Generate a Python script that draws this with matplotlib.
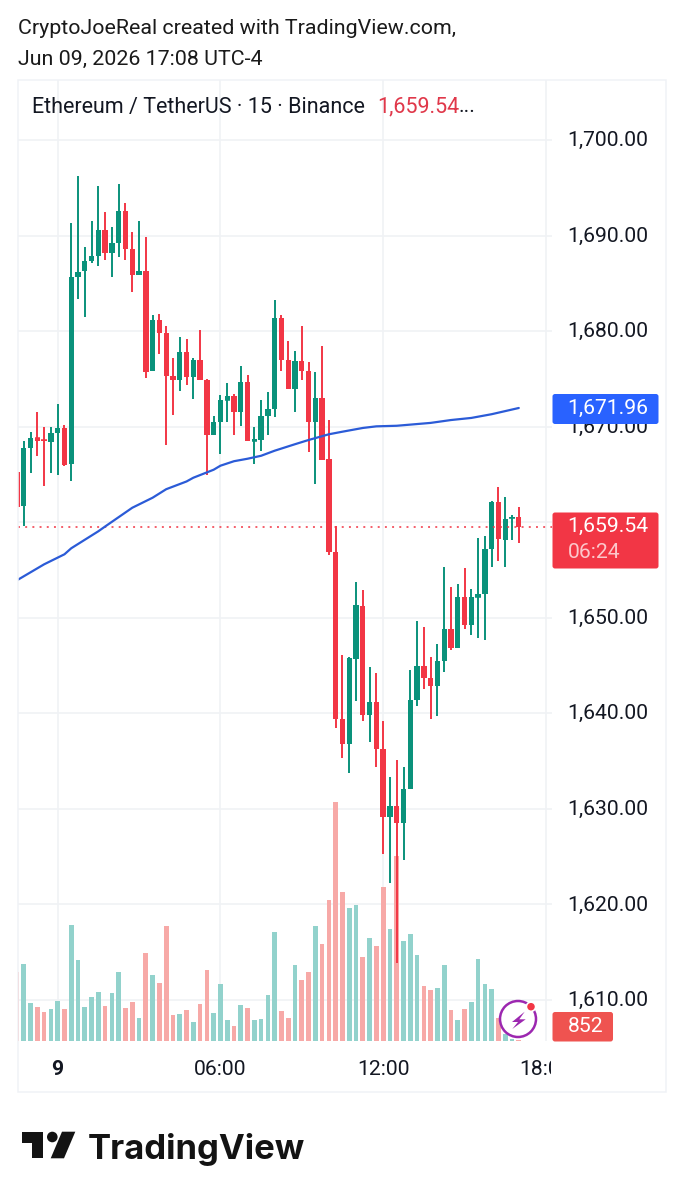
import matplotlib
matplotlib.use("Agg")
import matplotlib.pyplot as plt
from matplotlib.patches import Rectangle, Circle, Polygon, FancyBboxPatch
from matplotlib.transforms import Bbox, ScaledTranslation
import numpy as np

plt.rcParams['font.family'] = ['Roboto', 'DejaVu Sans']

# 15 minute candles, first bar is 22:30 on Jun 8
opens = [1665.30, 1661.66, 1667.77, 1668.81, 1668.60, 1668.39, 1669.34, 1669.86, 1666.05, 1685.67,
         1686.26, 1687.35, 1687.87, 1690.59, 1688.15, 1689.20, 1692.55, 1688.57, 1685.85, 1686.30,
         1675.83, 1681.17, 1679.77, 1675.30, 1674.85, 1677.78, 1675.16, 1677.02, 1674.93, 1669.10,
         1670.49, 1672.80, 1673.18, 1671.58, 1674.65, 1668.54, 1668.61, 1671.09, 1671.85, 1681.42,
         1677.02, 1673.95, 1676.85, 1675.80, 1670.49, 1673.04, 1666.62, 1656.91, 1639.46, 1636.81,
         1645.74, 1651.22, 1639.81, 1641.17, 1636.25, 1629.20, 1630.28, 1628.57, 1632.09, 1641.41,
         1644.94, 1643.72, 1642.91, 1645.50, 1648.85, 1646.86, 1652.16, 1649.30, 1652.16, 1652.51,
         1657.22, 1662.15, 1658.17, 1660.40, 1660.51]
highs = [1665.30, 1668.46, 1669.44, 1671.53, 1669.96, 1669.96, 1672.37, 1670.21, 1691.33, 1696.28,
         1688.78, 1691.50, 1695.16, 1692.44, 1690.91, 1695.41, 1693.42, 1690.38, 1691.50, 1689.89,
         1681.66, 1681.80, 1680.51, 1677.19, 1679.39, 1679.18, 1677.15, 1680.09, 1675.00, 1671.16,
         1673.29, 1674.58, 1673.43, 1676.32, 1675.38, 1669.97, 1672.80, 1673.60, 1683.23, 1681.66,
         1678.97, 1677.96, 1680.51, 1676.78, 1675.69, 1678.42, 1670.74, 1659.56, 1646.06, 1645.95,
         1653.80, 1652.93, 1644.90, 1644.21, 1639.25, 1633.32, 1635.13, 1634.43, 1644.55, 1649.65,
         1649.09, 1645.95, 1647.21, 1655.37, 1653.21, 1653.56, 1655.20, 1653.00, 1658.38, 1658.52,
         1662.18, 1663.68, 1662.63, 1660.72, 1661.59]
lows = [1661.60, 1659.56, 1665.15, 1666.89, 1663.75, 1665.15, 1664.97, 1665.91, 1664.27, 1683.37,
        1681.48, 1687.10, 1686.86, 1687.42, 1685.67, 1687.73, 1687.42, 1684.07, 1685.85, 1675.09,
        1675.83, 1677.64, 1668.08, 1671.26, 1673.73, 1674.36, 1672.90, 1674.86, 1664.98, 1669.10,
        1667.11, 1670.53, 1669.10, 1670.11, 1668.47, 1666.10, 1667.42, 1669.10, 1670.98, 1675.80,
        1673.95, 1671.54, 1674.89, 1667.35, 1664.04, 1666.48, 1656.53, 1638.45, 1635.31, 1633.73,
        1641.27, 1639.25, 1636.98, 1634.36, 1625.25, 1622.22, 1613.91, 1624.66, 1632.09, 1640.79,
        1642.57, 1639.46, 1639.77, 1644.28, 1646.68, 1646.86, 1648.81, 1648.15, 1647.91, 1647.70,
        1655.37, 1655.90, 1655.27, 1658.17, 1657.82]
closes = [1661.60, 1667.77, 1668.78, 1668.53, 1668.46, 1669.34, 1669.86, 1666.02, 1685.67, 1686.23,
          1687.35, 1687.87, 1690.59, 1688.15, 1689.20, 1692.55, 1688.57, 1685.85, 1686.30, 1675.76,
          1681.17, 1679.77, 1675.30, 1674.85, 1677.78, 1675.16, 1677.01, 1674.86, 1669.10, 1670.49,
          1672.83, 1673.18, 1671.58, 1674.65, 1668.47, 1668.68, 1671.16, 1671.85, 1681.42, 1677.02,
          1673.95, 1676.85, 1675.80, 1670.49, 1673.04, 1666.55, 1656.92, 1639.46, 1636.81, 1645.78,
          1651.29, 1639.81, 1641.17, 1636.25, 1629.20, 1630.35, 1628.57, 1632.09, 1641.41, 1644.94,
          1643.72, 1642.91, 1645.50, 1648.85, 1646.82, 1652.16, 1649.30, 1652.16, 1652.51, 1657.22,
          1662.15, 1658.24, 1660.37, 1660.54, 1659.54]
volumes = [62400, 69600, 34500, 30600, 26400, 28800, 36000, 29100, 104700, 73200,
           30600, 39600, 43800, 31800, 43200, 62100, 29700, 35100, 20400, 78900,
           59400, 52500, 103500, 23700, 24300, 27900, 16800, 33300, 63600, 25200,
           51300, 18900, 13500, 32100, 29400, 18900, 19800, 41100, 98100, 26700,
           20700, 68700, 54600, 62400, 103200, 87000, 126600, 215400, 134400, 120000,
           122700, 75900, 93000, 85500, 138300, 100500, 166200, 89700, 96300, 77100,
           49800, 46200, 48000, 68700, 28200, 18600, 29100, 35400, 74100, 51000,
           47100, 21000, 6600, 2100, 852]

# moving average, read at these bars
ma_bars = [0, 4, 7, 8, 12, 13, 17, 20, 22, 25, 26, 29, 30, 32, 34, 36, 38, 41, 43, 46,
           48, 51, 53, 56, 61, 64, 67, 70, 74]
ma_values = [1653.93, 1655.60, 1656.65, 1657.28, 1659.06, 1659.56, 1661.52, 1662.57, 1663.46, 1664.27,
             1664.66, 1665.50, 1665.92, 1666.39, 1666.65, 1666.96, 1667.49, 1668.17, 1668.61, 1669.21,
             1669.48, 1669.87, 1670.04, 1670.10, 1670.40, 1670.70, 1670.92, 1671.31, 1671.96]

price_ticks = [1700, 1690, 1680, 1670, 1660, 1650, 1640, 1630, 1620, 1610]
time_ticks = [6, 30, 54, 78]
time_labels = ['9', '06:00', '12:00', '18:00']
last_price = 1659.54
last_ma = 1671.96
last_volume = 852

GREEN = '#0a927b'
RED = '#f23645'
INK = '#131722'
GRID = '#f0f2f5'
FONT = 15.2

bars = np.arange(len(opens))
opens, highs, lows, closes = map(np.array, (opens, highs, lows, closes))
up = closes >= opens
colors = np.where(up, GREEN, RED)
vol_colors = np.where(up, '#92d2cc', '#f7a9a7')

fig = plt.figure(figsize=(6.84, 12), dpi=100, facecolor='white')
rect = [18 / 684, 159 / 1200, 534 / 684, 961.5 / 1200]

# three layers so the grid stays behind the volume and the volume behind the candles
ax_grid = fig.add_axes(rect, zorder=1)
ax_vol = fig.add_axes(rect, zorder=2, sharex=ax_grid)
ax = fig.add_axes(rect, zorder=3, sharex=ax_grid, sharey=ax_grid)
ax_vol.patch.set_visible(False)
ax.patch.set_visible(False)

ax_grid.set_xlim(0.147, 78.9)
ax_grid.set_ylim(1605.71, 1706.34)
ax_vol.set_ylim(0, 961.5 * 900)

ax_vol.bar(bars, volumes, width=0.69, color=vol_colors)

ax.vlines(bars, lows, highs, color=colors, lw=1.4)
ax.bar(bars, closes - opens, bottom=opens, width=0.79, color=colors, linewidth=0)
for i in np.where(np.abs(closes - opens) < 0.4)[0]:
    ax.hlines(opens[i], i - 0.39, i + 0.39, color=colors[i], lw=1.1)

ax.axhline(last_price, color=RED, lw=1.4, linestyle=(0, (1, 2.7)), alpha=0.8)
ax.plot(ma_bars, ma_values, color='#2b5bd7', lw=1.6, solid_capstyle='round')

for a in (ax_grid, ax_vol, ax):
    for s in a.spines.values():
        s.set_visible(False)
for a in (ax_vol, ax):
    a.tick_params(left=False, bottom=False, right=False, labelleft=False, labelbottom=False)

ax_grid.set_yticks(price_ticks)
ax_grid.set_yticklabels([f'{p:,.2f}' for p in price_ticks])
ax_grid.yaxis.tick_right()
ax_grid.set_xticks(time_ticks)
ax_grid.set_xticklabels(time_labels)
ax_grid.tick_params(axis='y', length=0, pad=11, labelsize=FONT, labelcolor=INK)
ax_grid.tick_params(axis='x', length=0, pad=13.5, labelsize=FONT, labelcolor=INK)
ax_grid.grid(True, color=GRID, lw=1.2)
ax_grid.set_axisbelow(True)
clip = Bbox.from_extents(0, 0, 551, 1200)
for lab in ax_grid.get_xticklabels():
    lab.set_clip_on(True)
    lab.set_clip_box(clip)
ax_grid.get_xticklabels()[0].set_fontweight('bold')
# price labels sit a touch above their grid lines
nudge = ScaledTranslation(0, 1.5 / 100, fig.dpi_scale_trans)
for lab in ax_grid.get_yticklabels():
    lab.set_transform(lab.get_transform() + nudge)

# page furniture, positioned in pixels
ov = fig.add_axes([0, 0, 1, 1], zorder=5)
ov.set_xlim(0, 684)
ov.set_ylim(1200, 0)
ov.axis('off')

ov.add_patch(Rectangle((18, 79.5), 648, 1012.5, fill=False, ec='#f0f2f6', lw=1.1))

ov.text(18, 28, 'CryptoJoeReal created with TradingView.com,', fontsize=15.4, color='#1a1a1a', va='center')
ov.text(18, 59, 'Jun 09, 2026 17:08 UTC-4', fontsize=15.4, color='#1a1a1a', va='center')

ov.text(32.5, 107, 'Ethereum / TetherUS · 15 · Binance', fontsize=15.5, color=INK, va='center')
ov.text(377.5, 107, f'{last_price:,.2f}', fontsize=15.5, color='#e0384a', va='center')
ov.text(459, 107, '...', fontsize=15.5, color=INK, va='center')


def tag(x0, y0, x1, y1, color):
    ov.add_patch(FancyBboxPatch((x0, y0), x1 - x0, y1 - y0, boxstyle='round,pad=0,rounding_size=2.5',
                                fc=color, ec='none', zorder=4))


tag(552.5, 394, 658.5, 424, '#2962ff')
ov.text(567.5, 408, f'{last_ma:,.2f}', fontsize=FONT, color='white', va='center', zorder=5)

tag(552.5, 512.5, 658.5, 568.5, RED)
ov.text(567.5, 526.5, f'{last_price:,.2f}', fontsize=FONT, color='white', va='center', zorder=5)
ov.text(567.5, 552, '06:24', fontsize=FONT, color='#fcc7cb', va='center', zorder=5)

tag(552.5, 1012, 613, 1041.5, '#ef5350')
ov.text(567.5, 1027, f'{last_volume}', fontsize=FONT, color='white', va='center', zorder=5)

# bolt badge
ov.add_patch(Circle((518, 1019), 18, fc='white', ec='#9c27b0', lw=1.8, zorder=4))
ov.add_patch(Polygon([(524.7, 1011.7), (512, 1022), (518, 1022), (512.3, 1029), (525.7, 1019.3), (519.3, 1019.3)],
                     fc='#9c27b0', ec='none', zorder=5))
ov.add_patch(Circle((531, 1006.7), 4.6, fc=RED, ec='white', lw=1.2, zorder=6))

# logo
ov.add_patch(Polygon([(21.7, 1131.7), (43.3, 1131.7), (43.3, 1158.3), (32.3, 1158.3), (32.3, 1142.7), (21.7, 1142.7)],
                     fc='#131313', ec='none'))
ov.add_patch(Circle((52.3, 1137), 5.3, fc='#131313', ec='none'))
ov.add_patch(Polygon([(62, 1131.7), (75.3, 1131.7), (64, 1158.3), (50.7, 1158.3)], fc='#131313', ec='none'))
ov.text(88, 1146, 'TradingView', fontsize=25, family='Inter', fontweight='bold', color='#131313',
        va='center_baseline')

fig.savefig('out.png', dpi=100, facecolor='white')
